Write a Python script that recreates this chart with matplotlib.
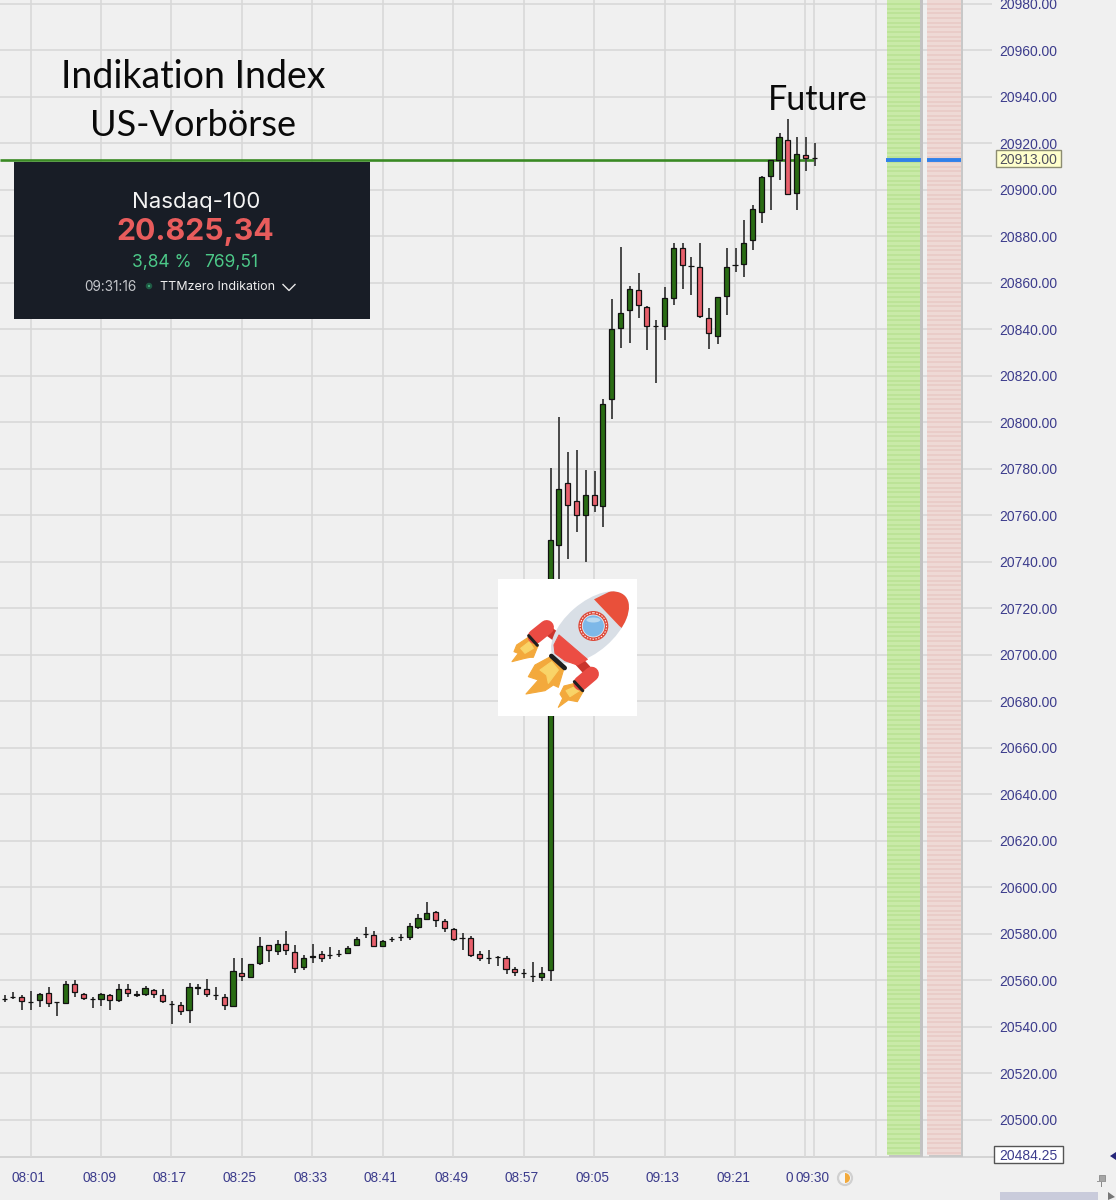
import numpy as np
import matplotlib
matplotlib.use("Agg")
import matplotlib.pyplot as plt
from matplotlib.patches import Rectangle, Circle, Ellipse, Polygon, Wedge

# candles, minute index counted from 08:01
first_minute = -3
opens = [20552, 20552.9, 20553, 20550.6, 20551.4, 20554.6, 20550.7, 20550.3, 20558.6, 20554.4, 20552, 20552, 20553.9,
         20551.4, 20556.3, 20553.7, 20554, 20556, 20553.9, 20550.1, 20549.6, 20547.1, 20556.9, 20556.3, 20553.9, 20553,
         20549.1, 20563.4, 20561.4, 20567.7, 20575.1, 20572.6, 20575.6, 20572.3, 20565.7, 20569.9, 20571.4, 20570.9,
         20571.6, 20572, 20575.3, 20580, 20579.7, 20574.7, 20577.9, 20578.7, 20578.6, 20583.1, 20586.4, 20589.6,
         20585.7, 20582.3, 20578.4, 20578.4, 20571.4, 20569.6, 20570, 20569.7, 20565.1, 20563.3, 20562, 20561.4,
         20564.6, 20747.1, 20774, 20766.3, 20760.4, 20768.9, 20763.9, 20810, 20840.6, 20848.4, 20856.9, 20849.6,
         20841.7, 20841.7, 20853.4, 20875.1, 20867.4, 20866.9, 20845.1, 20837.1, 20854.3, 20867.9, 20868.3, 20878.3,
         20890.6, 20906, 20912.9, 20921.7, 20898.9, 20915.1, 20913.7]
closes = [20552, 20552.9, 20551, 20550.6, 20554.1, 20550.3, 20550.7, 20558.6, 20554.9, 20552.6, 20552, 20554, 20551.6,
          20556.3, 20554.7, 20554.4, 20556.9, 20554, 20551, 20550.1, 20547, 20557.4, 20557.4, 20554.1, 20553.9, 20549.3,
          20564, 20562, 20566.9, 20575, 20573.3, 20575.6, 20573.3, 20565.4, 20569.6, 20570.6, 20569.6, 20570.9,
          20571.6, 20574.1, 20578, 20580, 20574.7, 20577.1, 20577.9, 20578.7, 20583.6, 20586.9, 20589, 20586,
          20582.6, 20578, 20578.4, 20570.9, 20569.6, 20569.6, 20570, 20564.9, 20563.6, 20563.3, 20562, 20563.4,
          20749.6, 20771.3, 20764.4, 20760.4, 20768.9, 20764.4, 20807.9, 20840.1, 20847.3, 20857.4, 20850.6, 20841.7,
          20841.7, 20853.4, 20875.1, 20867.9, 20867.4, 20846, 20838.4, 20854, 20866.7, 20867.9, 20877.3, 20891.7,
          20905.7, 20912.9, 20922.9, 20898.1, 20915.6, 20913.9, 20913.7]
highs = [20553.6, 20555, 20553.6, 20555.3, 20554.6, 20557.4, 20550.7, 20559.6, 20560.3, 20554.6, 20552.9, 20554.6,
         20554.3, 20558.6, 20558.6, 20555.3, 20557.7, 20556.3, 20556.4, 20551.1, 20550.7, 20559, 20558.6, 20560.7,
         20557.4, 20554, 20569.7, 20569.7, 20567.1, 20578.6, 20575.4, 20577.4, 20581.4, 20575.1, 20571.1, 20575.7,
         20572.9, 20574.3, 20573.1, 20575, 20578.6, 20582.9, 20581.1, 20577.4, 20578.9, 20580, 20584.6, 20588.6,
         20593.6, 20590, 20586.4, 20582.6, 20580.3, 20579, 20572.9, 20573.1, 20570.6, 20570.6, 20565.7, 20565.1,
         20568.1, 20565.7, 20780.3, 20802.4, 20787.4, 20788.1, 20779.6, 20779.1, 20810, 20853, 20875.3, 20858.6,
         20864.3, 20850.1, 20844.3, 20858.1, 20877, 20877, 20871, 20877, 20849.1, 20854, 20875.1, 20875.1, 20886.9,
         20893.4, 20906, 20913.1, 20924.6, 20930.7, 20922.6, 20922.6, 20920.3]
lows = [20550.7, 20552, 20547.4, 20547.4, 20548.6, 20548.6, 20544.6, 20549.7, 20553.1, 20551.7, 20548, 20549.1,
        20547.4, 20550.9, 20553.1, 20553.1, 20553.3, 20552.6, 20550.4, 20541.4, 20545.1, 20541.9, 20553.6, 20552.9,
        20551.4, 20547.1, 20548.6, 20559.7, 20560.9, 20566.6, 20568.1, 20571.1, 20571.1, 20563.3, 20564.7, 20567.7,
        20568.1, 20569.1, 20570.3, 20571.7, 20575, 20578.1, 20574.3, 20574.3, 20576.6, 20577.1, 20577.4, 20582,
        20586, 20583.1, 20580.7, 20577.1, 20573.1, 20570.3, 20568.6, 20567.1, 20566.4, 20562.6, 20561.9, 20560.9,
        20559.3, 20559.7, 20559.7, 20731, 20741.4, 20753.1, 20739.9, 20761.4, 20754.9, 20801.4, 20832.1, 20834.3,
        20845, 20831, 20817.1, 20835.3, 20850.4, 20857.6, 20855, 20845, 20831.4, 20833.6, 20846.4, 20864.9, 20862.6,
        20874.3, 20886, 20891.4, 20904.3, 20897.9, 20891.4, 20908.1, 20910.4]

price_ticks = list(range(20500, 21000, 20))
time_ticks = [0, 8, 16, 24, 32, 40, 48, 56, 64, 72, 80, 88, 89, 96]
time_labels = ["08:01", "08:09", "08:17", "08:25", "08:33", "08:41", "08:49", "08:57", "09:05", "09:13", "09:21"]
last_price = 20913.00
low_price = 20484.25

W, H = 1116, 1200
PX_X = 8.806    # px per minute
PX_Y = 2.325    # px per index point
BG = "#f0f0f0"
GRID = "#d8d8d8"
AXIS_BLUE = "#3c3c8c"

def mx(px):
    return (px - 30.5) / PX_X

fig = plt.figure(figsize=(W / 100, H / 100), dpi=100, facecolor=BG)
ax = fig.add_axes([0, 0, 1, 1], facecolor=BG)
ax.set_xlim(mx(0), mx(W))
ax.set_ylim(20500 - (H - 1120) / PX_Y, 20500 + 1120 / PX_Y)
ax.axis("off")

# same area in plain pixels for the decoration
ov = fig.add_axes([0, 0, 1, 1], facecolor="none")
ov.set_xlim(0, W)
ov.set_ylim(H, 0)
ov.axis("off")

ax.hlines(price_ticks, mx(0), mx(992), color=GRID, lw=1.2, zorder=1)
ax.hlines(low_price, mx(0), mx(994), color="#cfcfcf", lw=1.2, zorder=1)
ax.vlines(time_ticks, low_price, 20982, color=GRID, lw=1.2, zorder=1)

# volume style columns on the right, with a soft shadow
ax.axvspan(mx(920), mx(922.5), ymin=(H - 1156) / H, color="#c2c2c2", lw=0, zorder=2)
ax.axvspan(mx(960.5), mx(963), ymin=(H - 1156) / H, color="#c8c8c8", lw=0, zorder=2)
ax.axvspan(mx(889), mx(922.5), ymin=(H - 1157) / H, ymax=(H - 1154) / H, color="#c4c4c4", lw=0, zorder=2)
ax.axvspan(mx(929), mx(963), ymin=(H - 1157) / H, ymax=(H - 1154) / H, color="#c8c8c8", lw=0, zorder=2)
ax.axvspan(mx(887), mx(920), ymin=(H - 1155) / H, color="#c9eaa8", lw=0, zorder=3)
ax.axvspan(mx(927), mx(960.5), ymin=(H - 1155) / H, color="#eed9d5", lw=0, zorder=3)
stripes = np.arange(20486, 20982, 2)
ax.hlines(stripes, mx(887), mx(920), color="#b9e192", lw=1.1, zorder=4)
ax.hlines(stripes, mx(927), mx(960.5), color="#e8c9c5", lw=1.1, zorder=4)
ax.hlines(last_price, mx(886), mx(920.5), color="#2f80ea", lw=2.8, zorder=5)
ax.hlines(last_price, mx(926.5), mx(960.5), color="#2f80ea", lw=2.8, zorder=5)

# last price line
ax.hlines(last_price, mx(0), 89, color="#3a8a24", lw=1.9, zorder=2)

# candles
minutes = np.arange(first_minute, first_minute + len(opens))
o = np.array(opens)
c = np.array(closes)
colors = np.where(c > o, "#2a6c14", "#e8606c")
ax.vlines(minutes + 0.06, lows, highs, color="#484848", lw=1.4, zorder=6)
ax.bar(minutes, c - o, bottom=o, width=0.58, color=colors, edgecolor="#111111", linewidth=0.9, zorder=7)

# axis labels
for p in price_ticks:
    ax.text(mx(999), p - 1.2 / PX_Y, f"{p:.2f}", family="Liberation Sans", fontsize=10, color=AXIS_BLUE,
            ha="left", va="center", zorder=8)
for t, lab in zip(time_ticks, time_labels):
    ax.text(t - 1.9 / PX_X, 20500 - 58 / PX_Y, lab, family="Liberation Sans", fontsize=9.8, color=AXIS_BLUE,
            ha="center", va="center", zorder=8)
ov.text(813, 1178, "09:30", family="Liberation Sans", fontsize=9.8, color=AXIS_BLUE, ha="center", va="center")
ov.text(789.5, 1178, "0", family="Liberation Sans", fontsize=9.8, color=AXIS_BLUE, ha="center", va="center")

ov.add_patch(Rectangle((995.5, 150), 65.5, 17, fc="#ffffcc", ec="#8c8c72", lw=1, zorder=9))
ov.text(1028, 159.5, f"{last_price:.2f}", family="Liberation Sans", fontsize=10, color="#50505f",
        ha="center", va="center", zorder=10)
ov.add_patch(Rectangle((993.5, 1146), 69.5, 17, fc="white", ec="#555555", lw=1, zorder=9))
ov.text(1028, 1155.5, f"{low_price:.2f}", family="Liberation Sans", fontsize=10, color=AXIS_BLUE,
        ha="center", va="center", zorder=10)

# small widgets in the bottom corner
ov.add_patch(Circle((845, 1178), 7, fc="#f4f4f4", ec="#d0d0d0", lw=1.6, zorder=9))
ov.add_patch(Wedge((845, 1178), 5, -90, 90, fc="#f2a93b", ec="none", zorder=10))
ov.add_patch(Rectangle((1000, 1192), 98, 8, fc="#c9cbdb", ec="none", zorder=9))
ov.add_patch(Polygon([(1108, 1192), (1115, 1197), (1108, 1200)], fc="#777777", ec="none", zorder=9))
ov.add_patch(Polygon([(1116, 1152), (1110, 1156), (1116, 1160)], fc="#26267a", ec="none", zorder=9))
ov.add_patch(Rectangle((1098.5, 1175), 6, 6, fc="#a5a5a5", ec="#8a8a8a", lw=0.6, zorder=9))
ov.add_patch(Rectangle((1097, 1180.5), 9, 1.6, fc="#9a9a9a", ec="none", zorder=9))
ov.add_patch(Rectangle((1101, 1182), 1.4, 5, fc="#8a8a8a", ec="none", zorder=9))

# headline text
ov.text(193, 77, "Indikation Index", family="Lato", fontsize=27, color="#0a0a0a", ha="center", va="center", zorder=12)
ov.text(193, 125, "US-Vorbörse", family="Lato", fontsize=26, color="#0a0a0a", ha="center", va="center", zorder=12)
ov.text(818, 100, "Future", family="Lato", fontsize=24.5, color="#0a0a0a", ha="center", va="center", zorder=12)

# quote panel
ov.add_patch(Rectangle((14, 162), 355.5, 156.7, fc="#181d26", ec="none", zorder=11))
ov.text(195.7, 202, "Nasdaq-100", family="Inter", fontsize=16, color="#f4f4f4", ha="center", va="center", zorder=12)
ov.text(195.7, 232, "20.825,34", family="Inter", fontsize=21.8, weight="bold", color="#e85c5c",
        ha="center", va="center", zorder=12)
ov.text(132, 262, "3,84 %", family="Inter", fontsize=12.5, color="#4cc888", ha="left", va="center", zorder=12)
ov.text(258, 262, "769,51", family="Inter", fontsize=12.5, color="#4cc888", ha="right", va="center", zorder=12)
ov.text(84, 287, "09:31:16", family="Inter", fontsize=9.8, color="#c4c6ca", ha="left", va="center", zorder=12)
ov.add_patch(Circle((149, 286), 2.2, fc="#3fae7a", ec="#1f5a44", lw=1.5, zorder=12))
ov.text(160, 287, "TTMzero Indikation", family="Inter", fontsize=9, color="#eeeeee", ha="left", va="center", zorder=12)
ov.plot([283, 289, 295], [284.5, 290.5, 284.5], color="#e8e8e8", lw=1, zorder=12)

# rocket sticker, outline taken in a 3x crop
def rk(x, y):
    return 490 + x / 3, 570 + y / 3

def rk_poly(points, color, z):
    p = Polygon([rk(*q) for q in points], fc=color, ec=color, lw=0.8, joinstyle="round", zorder=z)
    ov.add_patch(p)
    return p

def rk_stroke(a, b, color, width, z):
    xs, ys = zip(rk(*a), rk(*b))
    ov.plot(xs, ys, color=color, lw=width, solid_capstyle="round", zorder=z)

ov.add_patch(Rectangle((498, 578.7), 138.7, 137, fc="white", ec="none", zorder=13))

# flames
rk_poly([(118, 200), (80, 225), (72, 245), (85, 250), (66, 275), (105, 265), (120, 262), (130, 262), (145, 225)],
        "#f3a93c", 14)
rk_poly([(118, 215), (92, 235), (105, 250), (130, 235)], "#f9d468", 15)
rk_poly([(185, 258), (135, 285), (115, 320), (145, 330), (108, 372), (165, 362), (190, 345), (205, 352),
         (222, 295)], "#f3a93c", 14)
rk_poly([(185, 275), (150, 300), (170, 315), (175, 340), (205, 300)], "#f9d468", 15)
rk_poly([(255, 340), (222, 348), (210, 372), (218, 385), (205, 412), (235, 390), (262, 395), (282, 360)],
        "#f3a93c", 14)
rk_poly([(250, 352), (228, 362), (240, 380), (268, 362)], "#f9d468", 15)

# body
body_c = rk(300, 172)
body = Ellipse(body_c, 94, 49, angle=-41, fc="#d9dfe6", ec="none", zorder=16)
ov.add_patch(body)
nose = Ellipse(body_c, 94, 49, angle=-41, fc="#e9503a", ec="none", zorder=17)
ov.add_patch(nose)
nose.set_clip_path(Polygon([rk(312, 88), rk(450, 20), rk(450, 220), rk(388, 168)], transform=ov.transData))
rk_poly([(207, 195), (192, 225), (195, 250), (225, 272), (262, 285), (292, 268)], "#ec4d43", 17)

# boosters
rk_stroke((178, 185), (212, 210), "#c9352c", 7, 15)
rk_stroke((265, 272), (295, 305), "#c9352c", 7, 15)
rk_stroke((170, 172), (135, 200), "#e94b43", 10.5, 18)
rk_stroke((305, 312), (272, 340), "#e94b43", 10.5, 18)
rk_stroke((116, 197), (142, 226), "#202020", 2.2, 19)
rk_stroke((253, 335), (278, 362), "#202020", 2.2, 19)
rk_stroke((184, 258), (224, 294), "#202020", 3.4, 19)

# window
ov.add_patch(Circle(rk(310, 168), 15, fc="#dd4a3a", ec="none", zorder=18))
ov.add_patch(Circle(rk(310, 168), 13.2, fc="none", ec="white", lw=0.7, ls=(0, (1.5, 1.5)), zorder=19))
ov.add_patch(Circle(rk(310, 168), 11, fc="#7db8e8", ec="#e8eef4", lw=0.6, zorder=19))
ov.add_patch(Ellipse(rk(310, 150), 14, 5, fc="#b9d9f0", ec="none", zorder=20))

fig.savefig("out.png", dpi=100, facecolor=BG)
